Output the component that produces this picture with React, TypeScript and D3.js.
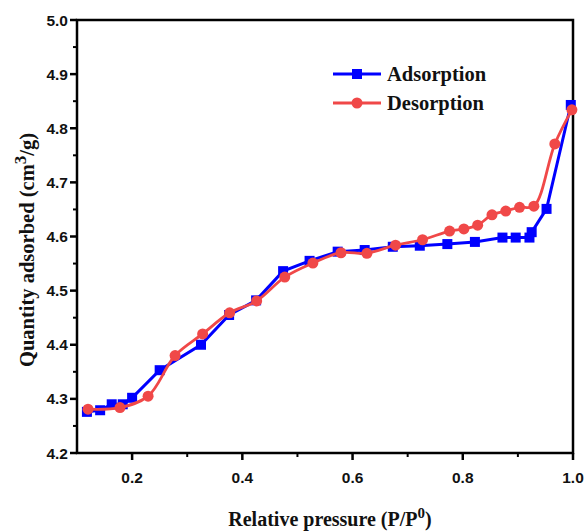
import React from "react";
import * as d3 from "d3";

const adsX = [0.118, 0.142, 0.163, 0.183, 0.2, 0.25, 0.325, 0.376, 0.425, 0.474, 0.522, 0.573, 0.622, 0.673, 0.722, 0.772, 0.822, 0.872, 0.896, 0.921, 0.925, 0.952, 0.996];
const adsY = [4.276, 4.279, 4.29, 4.29, 4.302, 4.353, 4.4, 4.455, 4.482, 4.536, 4.555, 4.572, 4.575, 4.581, 4.583, 4.586, 4.59, 4.598, 4.598, 4.598, 4.608, 4.651, 4.843];
const desX = [0.12, 0.178, 0.229, 0.278, 0.328, 0.377, 0.426, 0.477, 0.528, 0.579, 0.626, 0.678, 0.727, 0.776, 0.802, 0.827, 0.853, 0.878, 0.903, 0.929, 0.967, 0.998];
const desY = [4.281, 4.284, 4.305, 4.38, 4.42, 4.459, 4.481, 4.525, 4.551, 4.57, 4.569, 4.584, 4.594, 4.61, 4.614, 4.621, 4.64, 4.647, 4.654, 4.656, 4.771, 4.834];
const xTicks = [0.2, 0.4, 0.6, 0.8, 1.0];
const xMinor = [0.3, 0.5, 0.7, 0.9];
const yTicks = [4.2, 4.3, 4.4, 4.5, 4.6, 4.7, 4.8, 4.9, 5.0];
const yMinor = [4.25, 4.35, 4.45, 4.55, 4.65, 4.75, 4.85, 4.95];

const BLUE = "#0000ff";
const RED = "#f04848";

export default function App() {
  const W = 588, H = 531;
  const L = 77, R = 573, T = 20, B = 453;
  const x = d3.scaleLinear().domain([0.1, 1.0]).range([L, R]);
  const y = d3.scaleLinear().domain([4.2, 5.0]).range([B, T]);
  const ads = adsX.map((v, i) => [v, adsY[i]] as [number, number]);
  const des = desX.map((v, i) => [v, desY[i]] as [number, number]);
  const lineStraight = d3.line<[number, number]>().x(d => x(d[0])).y(d => y(d[1]));
  const lineSmooth = d3.line<[number, number]>().x(d => x(d[0])).y(d => y(d[1])).curve(d3.curveCatmullRom.alpha(0.5));
  const tickFont = "'Liberation Sans', Arial, sans-serif";
  const serif = "'Liberation Serif', 'Times New Roman', serif";
  return (
    <svg width={W} height={H} style={{ position: "absolute", left: 0, top: 0 }}>
      <rect x={0} y={0} width={W} height={H} fill="#fff" />
      <rect x={L} y={T} width={R - L} height={B - T} fill="none" stroke="#000" strokeWidth={2.5} />
      {xTicks.map(t => (
        <g key={"xt" + t}>
          <line x1={x(t)} x2={x(t)} y1={B} y2={B + 7} stroke="#000" strokeWidth={2.5} />
          <text x={x(t)} y={B + 30} textAnchor="middle" fontFamily={tickFont} fontWeight="bold" fontSize={15.5} fill="#111">{t.toFixed(1)}</text>
        </g>
      ))}
      {xMinor.map(t => (
        <line key={"xm" + t} x1={x(t)} x2={x(t)} y1={B} y2={B + 4} stroke="#000" strokeWidth={2} />
      ))}
      {yTicks.map(t => (
        <g key={"yt" + t}>
          <line x1={L - 7} x2={L} y1={y(t)} y2={y(t)} stroke="#000" strokeWidth={2.5} />
          <text x={L - 9} y={y(t) + 5.5} textAnchor="end" fontFamily={tickFont} fontWeight="bold" fontSize={15.5} fill="#111">{t.toFixed(1)}</text>
        </g>
      ))}
      {yMinor.map(t => (
        <line key={"ym" + t} x1={L - 4} x2={L} y1={y(t)} y2={y(t)} stroke="#000" strokeWidth={2} />
      ))}
      <path d={lineStraight(ads) || ""} fill="none" stroke={BLUE} strokeWidth={3} />
      {ads.map((d, i) => (
        <rect key={"a" + i} x={x(d[0]) - 5} y={y(d[1]) - 5} width={10} height={10} fill={BLUE} />
      ))}
      <path d={lineSmooth(des) || ""} fill="none" stroke={RED} strokeWidth={2.8} />
      {des.map((d, i) => (
        <circle key={"d" + i} cx={x(d[0])} cy={y(d[1])} r={5.5} fill={RED} />
      ))}
      <line x1={333} x2={381} y1={74} y2={74} stroke={BLUE} strokeWidth={3} />
      <rect x={352} y={69} width={10} height={10} fill={BLUE} />
      <text x={387} y={81} fontFamily={serif} fontWeight="bold" fontSize={20.5} fill="#111">Adsorption</text>
      <line x1={333} x2={381} y1={103} y2={103} stroke={RED} strokeWidth={3} />
      <circle cx={357} cy={103} r={5.5} fill={RED} />
      <text x={387} y={110} fontFamily={serif} fontWeight="bold" fontSize={20.5} fill="#111">Desorption</text>
      <text x={330} y={526} textAnchor="middle" fontFamily={serif} fontWeight="bold" fontSize={20} fill="#111">
        Relative pressure (P/P<tspan dy={-8} fontSize={15}>0</tspan><tspan dy={8}>)</tspan>
      </text>
      <text transform={`translate(34, 250) rotate(-90)`} textAnchor="middle" fontFamily={serif} fontWeight="bold" fontSize={20.5} fill="#111">
        Quantity adsorbed (cm<tspan dy={-8} fontSize={17}>3</tspan><tspan dy={8}>/g)</tspan>
      </text>
    </svg>
  );
}
